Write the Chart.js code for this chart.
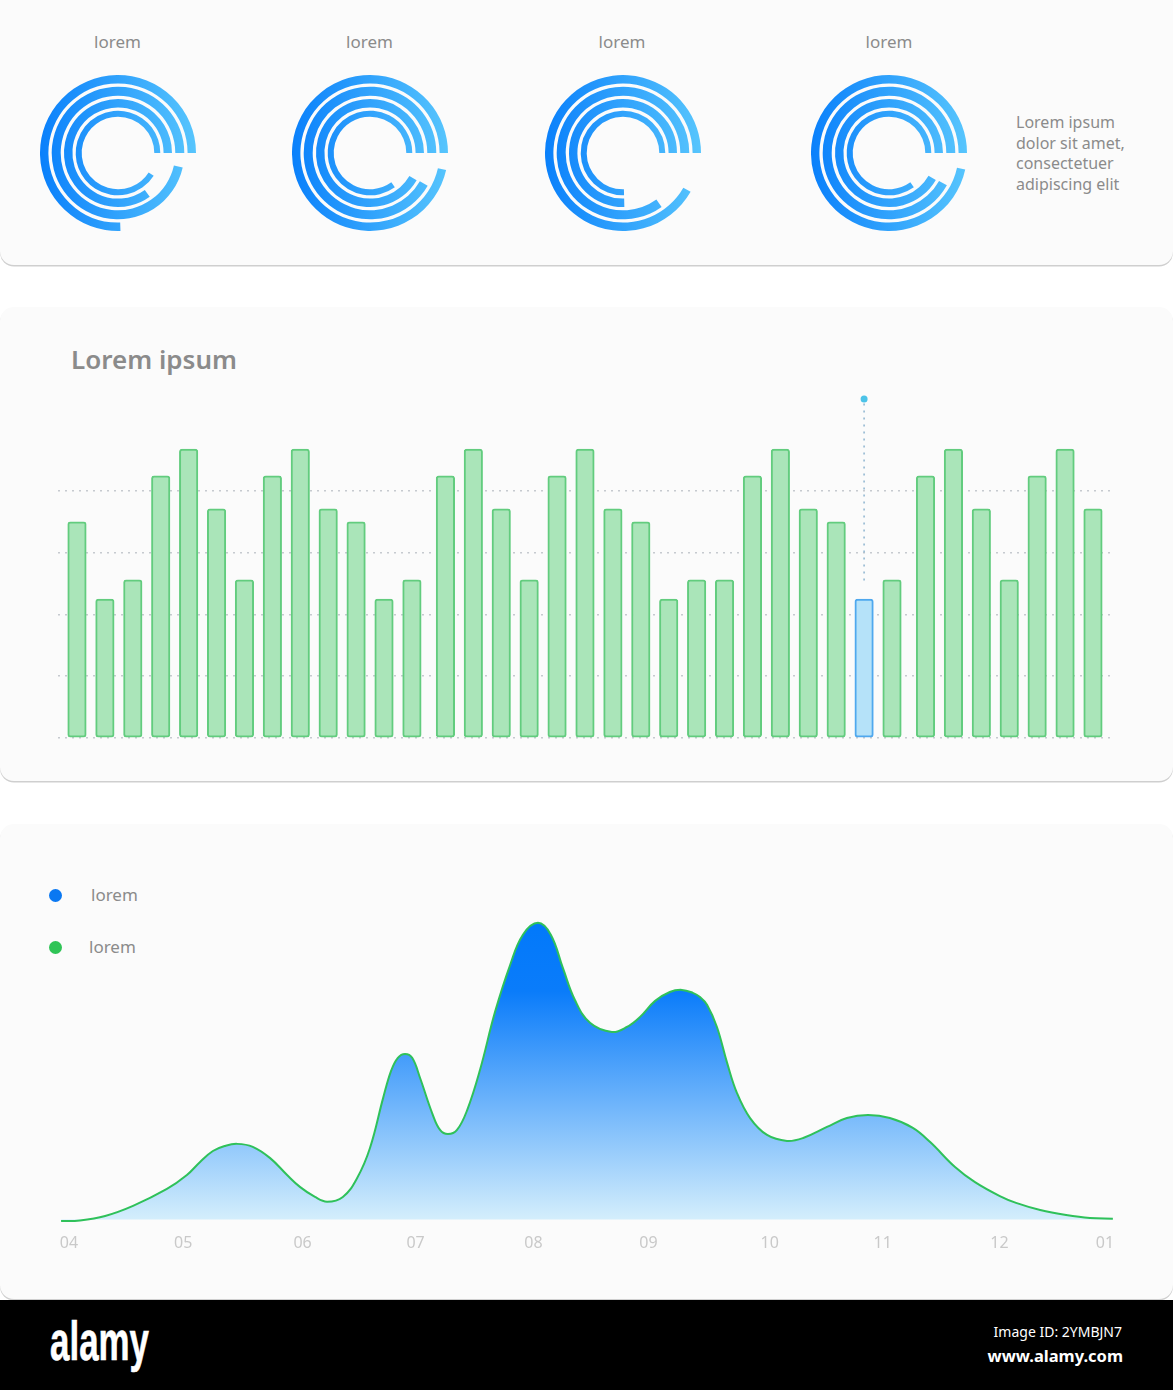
<!DOCTYPE html>
<html>
<head>
<meta charset="utf-8">
<title>Lorem ipsum</title>
<script src="https://cdn.jsdelivr.net/npm/chart.js@4"></script>
<style>
  html, body { margin: 0; padding: 0; background: #fff; }
  body { position: relative; width: 1173px; height: 1390px; overflow: hidden; font-family: "Noto Sans", sans-serif; color: #8b8b8b; }
  .card { position: absolute; left: 0; width: 1173px; background: #fbfbfb; border-radius: 14px; box-shadow: 0 1.5px 0 #cfcfcf; }
  .abs { position: absolute; white-space: nowrap; }
  canvas { position: absolute; }
  .ring-label { font-size: 17px; line-height: 20px; width: 100px; text-align: center; top: 32px; }
  .note { left: 1016px; top: 112px; font-size: 16px; line-height: 20.5px; }
  .title { left: 71px; top: 341px; font-size: 26px; line-height: 36px; font-weight: 600; }
  .dot { width: 13px; height: 13px; border-radius: 50%; }
  .legend { font-size: 17px; line-height: 20px; }
  #footer { position: absolute; left: 0; top: 1300px; width: 1173px; height: 90px; background: #000; color: #fff; }
</style>
</head>
<body>

<div class="card" style="top:-20px;height:285px"></div>
<div class="card" style="top:307px;height:474px"></div>
<div class="card" style="top:824px;height:475px"></div>

<div class="abs ring-label" style="left:67.5px">lorem</div>
<div class="abs ring-label" style="left:319.5px">lorem</div>
<div class="abs ring-label" style="left:572px">lorem</div>
<div class="abs ring-label" style="left:839px">lorem</div>
<canvas id="ringA" width="156" height="156" style="left:40px;top:75px"></canvas>
<canvas id="ringB" width="156" height="156" style="left:291.5px;top:75px"></canvas>
<canvas id="ringC" width="156" height="156" style="left:544.5px;top:75px"></canvas>
<canvas id="ringD" width="156" height="156" style="left:811px;top:75px"></canvas>
<div class="abs note">Lorem ipsum<br>dolor sit amet,<br>consectetuer<br>adipiscing elit</div>

<div class="abs title">Lorem ipsum</div>
<canvas id="barChart" width="1052" height="352" style="left:58px;top:390px"></canvas>

<div class="abs dot" style="left:48.5px;top:888.5px;background:#0a78f2"></div>
<div class="abs legend" style="left:91px;top:885px">lorem</div>
<div class="abs dot" style="left:48.5px;top:940.5px;background:#2fc456"></div>
<div class="abs legend" style="left:89px;top:937px">lorem</div>
<canvas id="areaChart" width="1173" height="362" style="left:0;top:900px"></canvas>

<div id="footer">
  <div class="abs" style="left:50px;top:11px;font:bold 55px/60px 'Liberation Sans',sans-serif;transform:scaleX(.635);transform-origin:left top;-webkit-text-stroke:.6px #fff">alamy</div>
  <div class="abs" style="right:51px;top:22px;font-size:14px;line-height:20px">Image ID: 2YMBJN7</div>
  <div class="abs" style="right:50px;top:45px;font-size:16.5px;line-height:22px;font-weight:700">www.alamy.com</div>
</div>

<script>
// ----- DATA -----
// ring values, outermost first, percent of a full turn
const ringsA = [75.5, 96.5, 85, 91];
const ringsB = [96.5, 91.8, 91.6, 85];
const ringsC = [91.7, 84.9, 75.4, 75.4];
const ringsD = [96.6, 91.9, 91.7, 85];

// bars: day number and value
const barDays = [0, 5, 10, 15, 20, 25, 30, 35, 40, 45, 50, 55, 60,
    66, 71, 76, 81, 86, 91, 96, 101, 106, 111, 116, 121, 126, 131, 136, 141, 146,
    152, 157, 162, 167, 172, 177, 182];
const barValues = [70, 45, 51.2, 84.9, 93.6, 74.2, 51.2, 84.9, 93.6, 74.2, 70, 45, 51.2,
    84.9, 93.6, 74.2, 51.2, 84.9, 93.6, 74.2, 70, 45, 51.2, 51.2, 84.9, 93.6, 74.2, 70, 45, 51.2,
    84.9, 93.6, 74.2, 51.2, 84.9, 93.6, 74.2];
const highlightDay = 141;
const markerValues = [51, 109.8];
const gridValues = [0, 20, 40, 60, 80];

// area curve
const areaDays = [-2.1, 2.9, 9.6, 17, 26, 31.3, 34.8, 38.2, 41.4, 44.6, 48.8, 53.4, 57.9, 61.3, 65.3, 68.5, 72.7,
    76.5, 79.9, 83.4, 85.5, 87.3, 89.2, 91.1, 93.2, 96.4, 98.5, 100.6, 103, 105.7, 109.1, 113.1,
    117.1, 120.5, 124.5, 127.9, 131.1, 134.3, 138.3, 144.1, 148.1, 151.6, 155.6, 159.5, 162.7, 165.6, 167.5,
    169.4, 172, 174.7, 177.3, 180.8, 185.3, 190.6, 194.9, 201.2, 206.5, 212.1, 217.9, 224, 228.6,
    235.2, 240.5, 247.1, 251.4, 257.8, 264.7, 271, 277.1];
const areaValues = [-0.5, -0.3, 1.2, 4.6, 10.3, 15, 19.4, 23.1, 24.8, 25.5, 24.5, 20.7, 15, 11, 7.6, 6, 7.6,
    14, 24.1, 41, 50.1, 54.5, 55.8, 54.5, 47.7, 35.9, 30.2, 28.8, 30.2, 36.9, 50.4, 70,
    85.8, 96, 100, 96, 84.8, 74, 66.3, 63.2, 64.9, 68.3, 73.7, 76.7, 77.4, 76.4, 75,
    72.3, 64.9, 52.8, 42.7, 34.2, 28.5, 26.5, 27.5, 31.2, 34.2, 35.2, 34.2, 30.9, 26.1,
    17.7, 12.6, 7.9, 5.6, 3.2, 1.5, 0.5, 0.3];
const monthDays = [0, 30.3, 62, 92, 123.3, 153.8, 186, 216, 247, 275];
const monthLabels = ["04", "05", "06", "07", "08", "09", "10", "11", "12", "01"];

// ----- RINGS -----
// spacer datasets make the white gaps between rings
function drawRing(id, values) {
    const canvas = document.getElementById(id);
    const grad = canvas.getContext("2d").createLinearGradient(0, 0, canvas.width, 0);
    grad.addColorStop(0, "#0a80fb");
    grad.addColorStop(1, "#57c5fd");

    const ringWeights = [8.4, 9, 8.4, 6];
    const datasets = [];
    values.forEach((v, i) => {
        datasets.push({ data: [100 - v, v], backgroundColor: ["transparent", grad], borderWidth: 0, weight: ringWeights[i] });
        if (i < values.length - 1) {
            datasets.push({ data: [1], backgroundColor: ["transparent"], borderWidth: 0, weight: 3.3 });
        }
    });

    new Chart(canvas, {
        type: "doughnut",
        data: { datasets },
        options: {
            responsive: false,
            animation: false,
            rotation: 90,
            cutout: 36.3,
            plugins: { legend: { display: false }, tooltip: { enabled: false } }
        }
    });
}
drawRing("ringA", ringsA);
drawRing("ringB", ringsB);
drawRing("ringC", ringsC);
drawRing("ringD", ringsD);

// ----- BARS -----
new Chart(document.getElementById("barChart"), {
    type: "bar",
    data: {
        datasets: [{
            type: "line",
            data: markerValues.map(v => ({ x: highlightDay, y: v })),
            borderColor: "#8db4cf",
            borderWidth: 1.5,
            borderDash: [2, 5],
            pointRadius: [0, 3.5],
            pointBorderWidth: 0,
            pointBackgroundColor: "#4cc3e8",
            order: 0
        }, {
            data: barDays.map((d, i) => ({ x: d, y: barValues[i] })),
            barThickness: 18.5,
            grouped: false,
            borderRadius: 3,
            borderSkipped: false,
            borderWidth: 2,
            backgroundColor: barDays.map(d => d === highlightDay ? "#b5e2f9" : "#aae5b9"),
            borderColor: barDays.map(d => d === highlightDay ? "#4fa8ee" : "#62cc7e"),
            order: 1
        }]
    },
    options: {
        responsive: false,
        animation: false,
        layout: { autoPadding: false, padding: { bottom: 4 } },
        plugins: { legend: { display: false }, tooltip: { enabled: false } },
        scales: {
            x: { type: "linear", offset: false, display: false, min: -3.4, max: 185.05 },
            y: {
                min: 0,
                max: 112.7,
                afterBuildTicks: scale => { scale.ticks = gridValues.map(v => ({ value: v })); },
                ticks: { display: false },
                border: { display: false, dash: [2, 5] },
                grid: { color: "#c6cacf", lineWidth: 1.5, drawTicks: false }
            }
        }
    }
});

// ----- AREA -----
new Chart(document.getElementById("areaChart"), {
    type: "line",
    data: {
        datasets: [{
            data: areaDays.map((d, i) => ({ x: d, y: areaValues[i] })),
            tension: 0.4,
            borderColor: "#2fc15a",
            borderWidth: 2,
            pointRadius: 0,
            fill: "origin",
            backgroundColor: context => {
                const { ctx, chartArea, scales } = context.chart;
                if (!chartArea) return "transparent";
                const y0 = scales.y.getPixelForValue(0);
                const grad = ctx.createLinearGradient(0, chartArea.top, 0, y0);
                const solidStop = (scales.y.getPixelForValue(77) - chartArea.top) / (y0 - chartArea.top);
                grad.addColorStop(0, "#0078fa");
                grad.addColorStop(solidStop, "#0a7cfa");
                grad.addColorStop(1, "#d4eefc");
                return grad;
            }
        }]
    },
    options: {
        responsive: false,
        animation: false,
        layout: { autoPadding: false, padding: { left: 59, right: 59, top: 8 } },
        plugins: { legend: { display: false }, tooltip: { enabled: false } },
        scales: {
            x: {
                type: "linear",
                min: -2.65,
                max: 277.4,
                afterBuildTicks: scale => { scale.ticks = monthDays.map(v => ({ value: v })); },
                afterFit: scale => { scale.height = 39.5; },
                grid: { display: false },
                border: { display: false },
                ticks: {
                    autoSkip: false,
                    maxRotation: 0,
                    padding: 3,
                    color: "#c9c9c9",
                    font: { family: "Noto Sans", size: 16 },
                    callback: (value, index) => monthLabels[index]
                }
            },
            y: { display: false, min: -1, max: 105 }
        }
    }
});
</script>
</body>
</html>
